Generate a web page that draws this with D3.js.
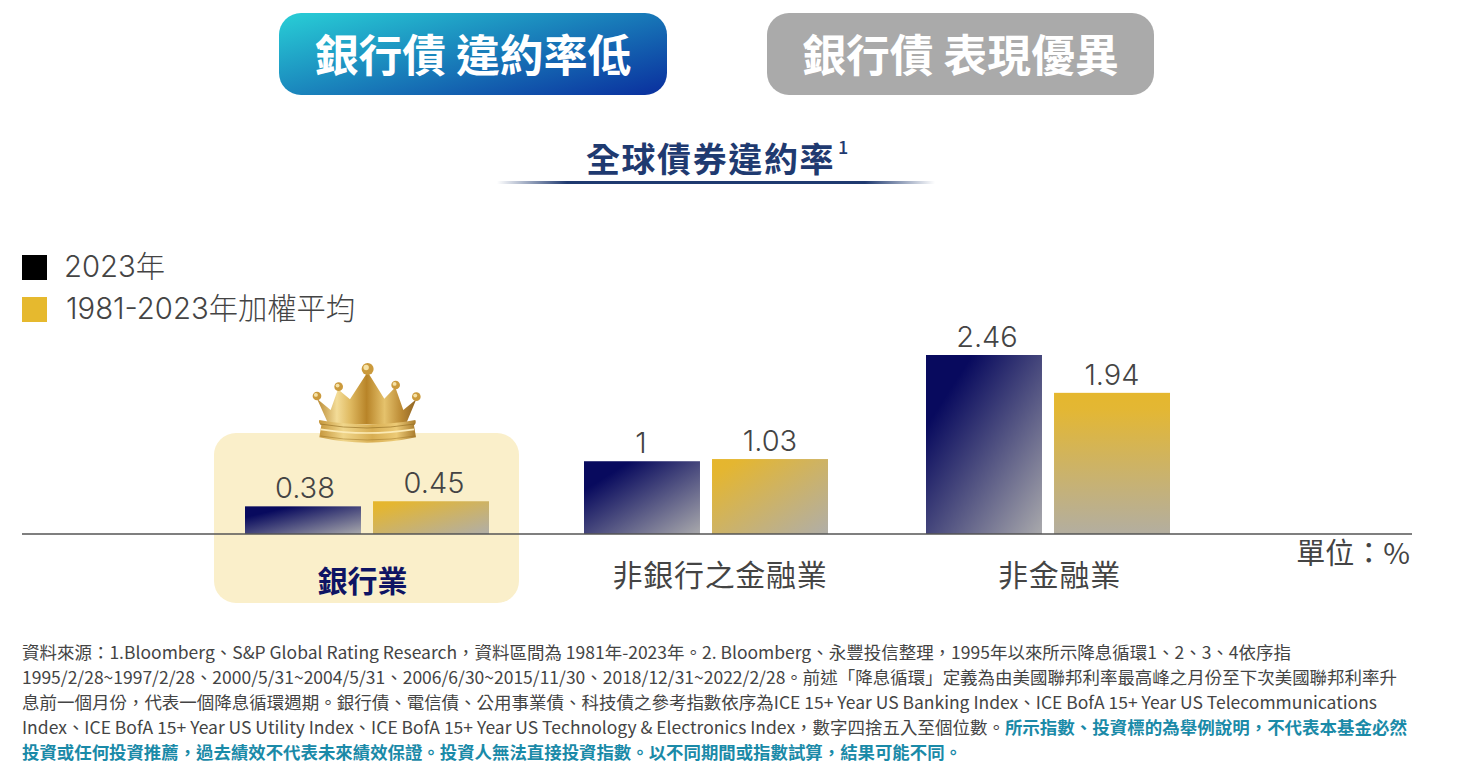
<!DOCTYPE html>
<html><head><meta charset="utf-8">
<script src="https://cdn.jsdelivr.net/npm/d3@7"></script>
<style>html,body{margin:0;padding:0;background:#fff;overflow:hidden}svg{display:block}</style>
</head><body><svg id="c" width="1470" height="767"></svg>
<script>
const categories = ["銀行業","非銀行之金融業","非金融業"];
const seriesNames = ["2023年","1981-2023年加權平均"];
const values2023 = [0.38,1,2.46];
const valuesAvg = [0.45,1.03,1.94];
const valueLabels = [["0.38","1","2.46"],["0.45","1.03","1.94"]];
const headers = ["銀行債 違約率低","銀行債 表現優異"];
const chartTitle = "全球債券違約率";
const unitLabel = "單位：%";
const notes = [
 [["資料來源：1.Bloomberg、S&P Global Rating Research，資料區間為 1981年-2023年。2. Bloomberg、永豐投信整理，1995年以來所示降息循環1、2、3、4依序指",0]],
 [["1995/2/28~1997/2/28、2000/5/31~2004/5/31、2006/6/30~2015/11/30、2018/12/31~2022/2/28。前述「降息循環」定義為由美國聯邦利率最高峰之月份至下次美國聯邦利率升",0]],
 [["息前一個月份，代表一個降息循環週期。銀行債、電信債、公用事業債、科技債之參考指數依序為ICE 15+ Year US Banking Index、ICE BofA 15+ Year US Telecommunications",0]],
 [["Index、ICE BofA 15+ Year US Utility Index、ICE BofA 15+ Year US Technology & Electronics Index，數字四捨五入至個位數。",0],["所示指數、投資標的為舉例說明，不代表本基金必然",1]],
 [["投資或任何投資推薦，過去績效不代表未來績效保證。投資人無法直接投資指數。以不同期間或指數試算，結果可能不同。",1]]
];
const noteEnds = [1291,1397,1377,1407,962];
const CJK = '"Noto Sans CJK TC","Noto Sans",sans-serif';
const MIX = 'Inter,"Noto Sans CJK TC",sans-serif';
const svg = d3.select("#c");
const defs = svg.append("defs");
function grad(id,stops,a){
  const g=defs.append("linearGradient").attr("id",id).attr("x1",a[0]).attr("y1",a[1]).attr("x2",a[2]).attr("y2",a[3]);
  stops.forEach(s=>g.append("stop").attr("offset",s[0]).attr("stop-color",s[1]).attr("stop-opacity",s[2]===undefined?1:s[2]));
}
grad("gNavy",[[0,"#080a5e"],[0.2,"#080a5e"],[1,"#a9a9ac"]],[0,0,1,1]);
grad("gGold",[[0,"#e6b62c"],[0.12,"#e4b631"],[1,"#b0aea8"]],[0,0,1,1]);
grad("gGoldTall",[[0,"#e5b72e"],[0.12,"#e3b734"],[1,"#b3aea0"]],[0,0,0,1]);
grad("gHead",[[0,"#27c8d4"],[1,"#0b35a0"]],[0,0.1,1,0.9]);
grad("gRule",[[0,"#1f3a70",0],[0.16,"#1f3a70",1],[0.84,"#1f3a70",1],[1,"#1f3a70",0]],[0,0,1,0]);
grad("gCrown",[[0,"#b98a35"],[0.2,"#f3dc98"],[0.33,"#e0bb63"],[0.5,"#b88428"],[0.68,"#e5c26c"],[0.85,"#bb8a34"],[1,"#8f6424"]],[0,0,1,0]);
grad("gBand",[[0,"#c6973c"],[0.25,"#f0d68b"],[0.55,"#d8ae52"],[0.8,"#ecca76"],[1,"#a97b2c"]],[0,0,1,0]);

// header pills
const pills=[{x:279,w:388,fill:"url(#gHead)"},{x:767,w:387,fill:"#aaaaaa"}];
svg.selectAll("rect.pill").data(pills).join("rect").attr("class","pill")
  .attr("x",d=>d.x).attr("y",13).attr("width",d=>d.w).attr("height",82).attr("rx",22).attr("fill",d=>d.fill);
svg.selectAll("text.pillT").data(pills).join("text").attr("class","pillT")
  .attr("x",d=>d.x+d.w/2).attr("y",72).attr("text-anchor","middle").attr("fill","#fff")
  .attr("font-family",CJK).attr("font-weight",700).attr("font-size",43.8)
  .text((d,i)=>headers[i]);

// title
svg.append("text").attr("x",710.5).attr("y",172).attr("text-anchor","middle").attr("fill","#1f3a70")
  .attr("font-family",CJK).attr("font-weight",700).attr("font-size",34).attr("letter-spacing",1.6).text(chartTitle);
svg.append("text").attr("x",838).attr("y",154).attr("fill","#1f3a70")
  .attr("font-family",CJK).attr("font-weight",500).attr("font-size",18).text("1");
svg.append("rect").attr("x",497).attr("y",181).attr("width",438).attr("height",3).attr("fill","url(#gRule)");

// legend
const legendFills=["#000000","#e6b92e"], legendY=[267,309], legendX=[64,66];
seriesNames.forEach((n,i)=>{
  svg.append("rect").attr("x",22).attr("y",legendY[i]-12).attr("width",25).attr("height",25).attr("fill",legendFills[i]);
  svg.append("text").attr("x",legendX[i]).attr("y",legendY[i]+10).attr("fill","#444").attr("font-weight",300)
    .attr("font-family",MIX).attr("font-size",29.3).text(n);
});

// highlight panel
svg.append("rect").attr("x",214).attr("y",433).attr("width",305).attr("height",170).attr("rx",22).attr("fill","#faefca");

// scales
const y=d3.scaleLinear().domain([0,2.46]).range([534,355]);
const x0=d3.scaleOrdinal().domain(categories).range([245,584,926]);
const x1=d3.scaleBand().domain([0,1]).range([0,244]).paddingInner(0.094).paddingOuter(0);
const series=[values2023,valuesAvg];
const fills=[["url(#gNavy)","url(#gNavy)","url(#gNavy)"],["url(#gGold)","url(#gGold)","url(#gGoldTall)"]];
const labelShift=[[2,-1,3],[3,0,0]];
series.forEach((vals,s)=>{
  const rows=vals.map((v,i)=>({v,i,c:categories[i],l:valueLabels[s][i]}));
  svg.selectAll("rect.s"+s).data(rows).join("rect").attr("class","s"+s)
    .attr("x",d=>x0(d.c)+x1(s)).attr("y",d=>y(d.v)).attr("width",x1.bandwidth())
    .attr("height",d=>y(0)-y(d.v)).attr("fill",d=>fills[s][d.i]);
  svg.selectAll("text.l"+s).data(rows).join("text").attr("class","l"+s)
    .attr("x",d=>x0(d.c)+x1(s)+x1.bandwidth()/2+labelShift[s][d.i]).attr("y",d=>y(d.v)-8)
    .attr("text-anchor","middle").attr("fill","#444").attr("font-family","Inter,Roboto,sans-serif").attr("font-weight",300)
    .attr("font-size",29).text(d=>d.l);
});
svg.append("line").attr("x1",22).attr("x2",1412).attr("y1",534).attr("y2",534).attr("stroke","#555").attr("stroke-width",1.5);

// category labels
const catX=[362.5,720,1059.5], catY=[592,586,586];
categories.forEach((c,i)=>{
  svg.append("text").attr("x",catX[i]).attr("y",catY[i]).attr("text-anchor","middle")
    .attr("fill",i===0?"#0e1464":"#444").attr("font-weight",i===0?700:400)
    .attr("font-family",CJK).attr("font-size",30).attr("letter-spacing",i===0?0:0.7).text(c);
});
svg.append("text").attr("x",1410).attr("y",564).attr("text-anchor","end").attr("fill","#444")
  .attr("font-family",CJK).attr("font-size",29).text(unitLabel);

// crown
const cr=svg.append("g").attr("transform","translate(200,350) scale(0.3333)");
cr.append("path").attr("d","M351,146 L392,180 L414,118 L450,148 L503,66 L553,146 L586,112 L610,180 L649,148 L618,222 L385,222 Z").attr("fill","url(#gCrown)");
cr.append("path").attr("d","M358,210 Q500,236 646,210 Q650,220 642,226 L648,262 Q500,294 358,262 L364,226 Q354,218 358,210 Z").attr("fill","url(#gBand)");
cr.append("path").attr("d","M360,222 Q500,246 644,222").attr("fill","none").attr("stroke","#8f6a20").attr("stroke-width",3).attr("opacity",0.6);
cr.append("path").attr("d","M362,238 Q500,260 642,238").attr("fill","none").attr("stroke","#fbeab5").attr("stroke-width",5);
cr.append("path").attr("d","M362,258 Q500,282 646,258").attr("fill","none").attr("stroke","#9c7425").attr("stroke-width",3).attr("opacity",0.5);
[[503,57,18],[416,110,13],[587,105,13],[351,138,13],[649,140,13]].forEach(b=>{
  cr.append("circle").attr("cx",b[0]).attr("cy",b[1]).attr("r",b[2]).attr("fill","#cb9a3c");
  cr.append("circle").attr("cx",b[0]-b[2]*0.25).attr("cy",b[1]-b[2]*0.25).attr("r",b[2]*0.45).attr("fill","#f6e2a6");
});

// footnote
notes.forEach((parts,i)=>{
  const t=svg.append("text").attr("x",22).attr("y",659+i*25).attr("font-family",CJK).attr("font-size",17)
    .attr("textLength",noteEnds[i]-22).attr("lengthAdjust","spacingAndGlyphs");
  parts.forEach(p=>t.append("tspan").attr("fill",p[1]?"#1a8aa8":"#444").attr("font-weight",p[1]?700:400).text(p[0]));
});
</script></body></html>
